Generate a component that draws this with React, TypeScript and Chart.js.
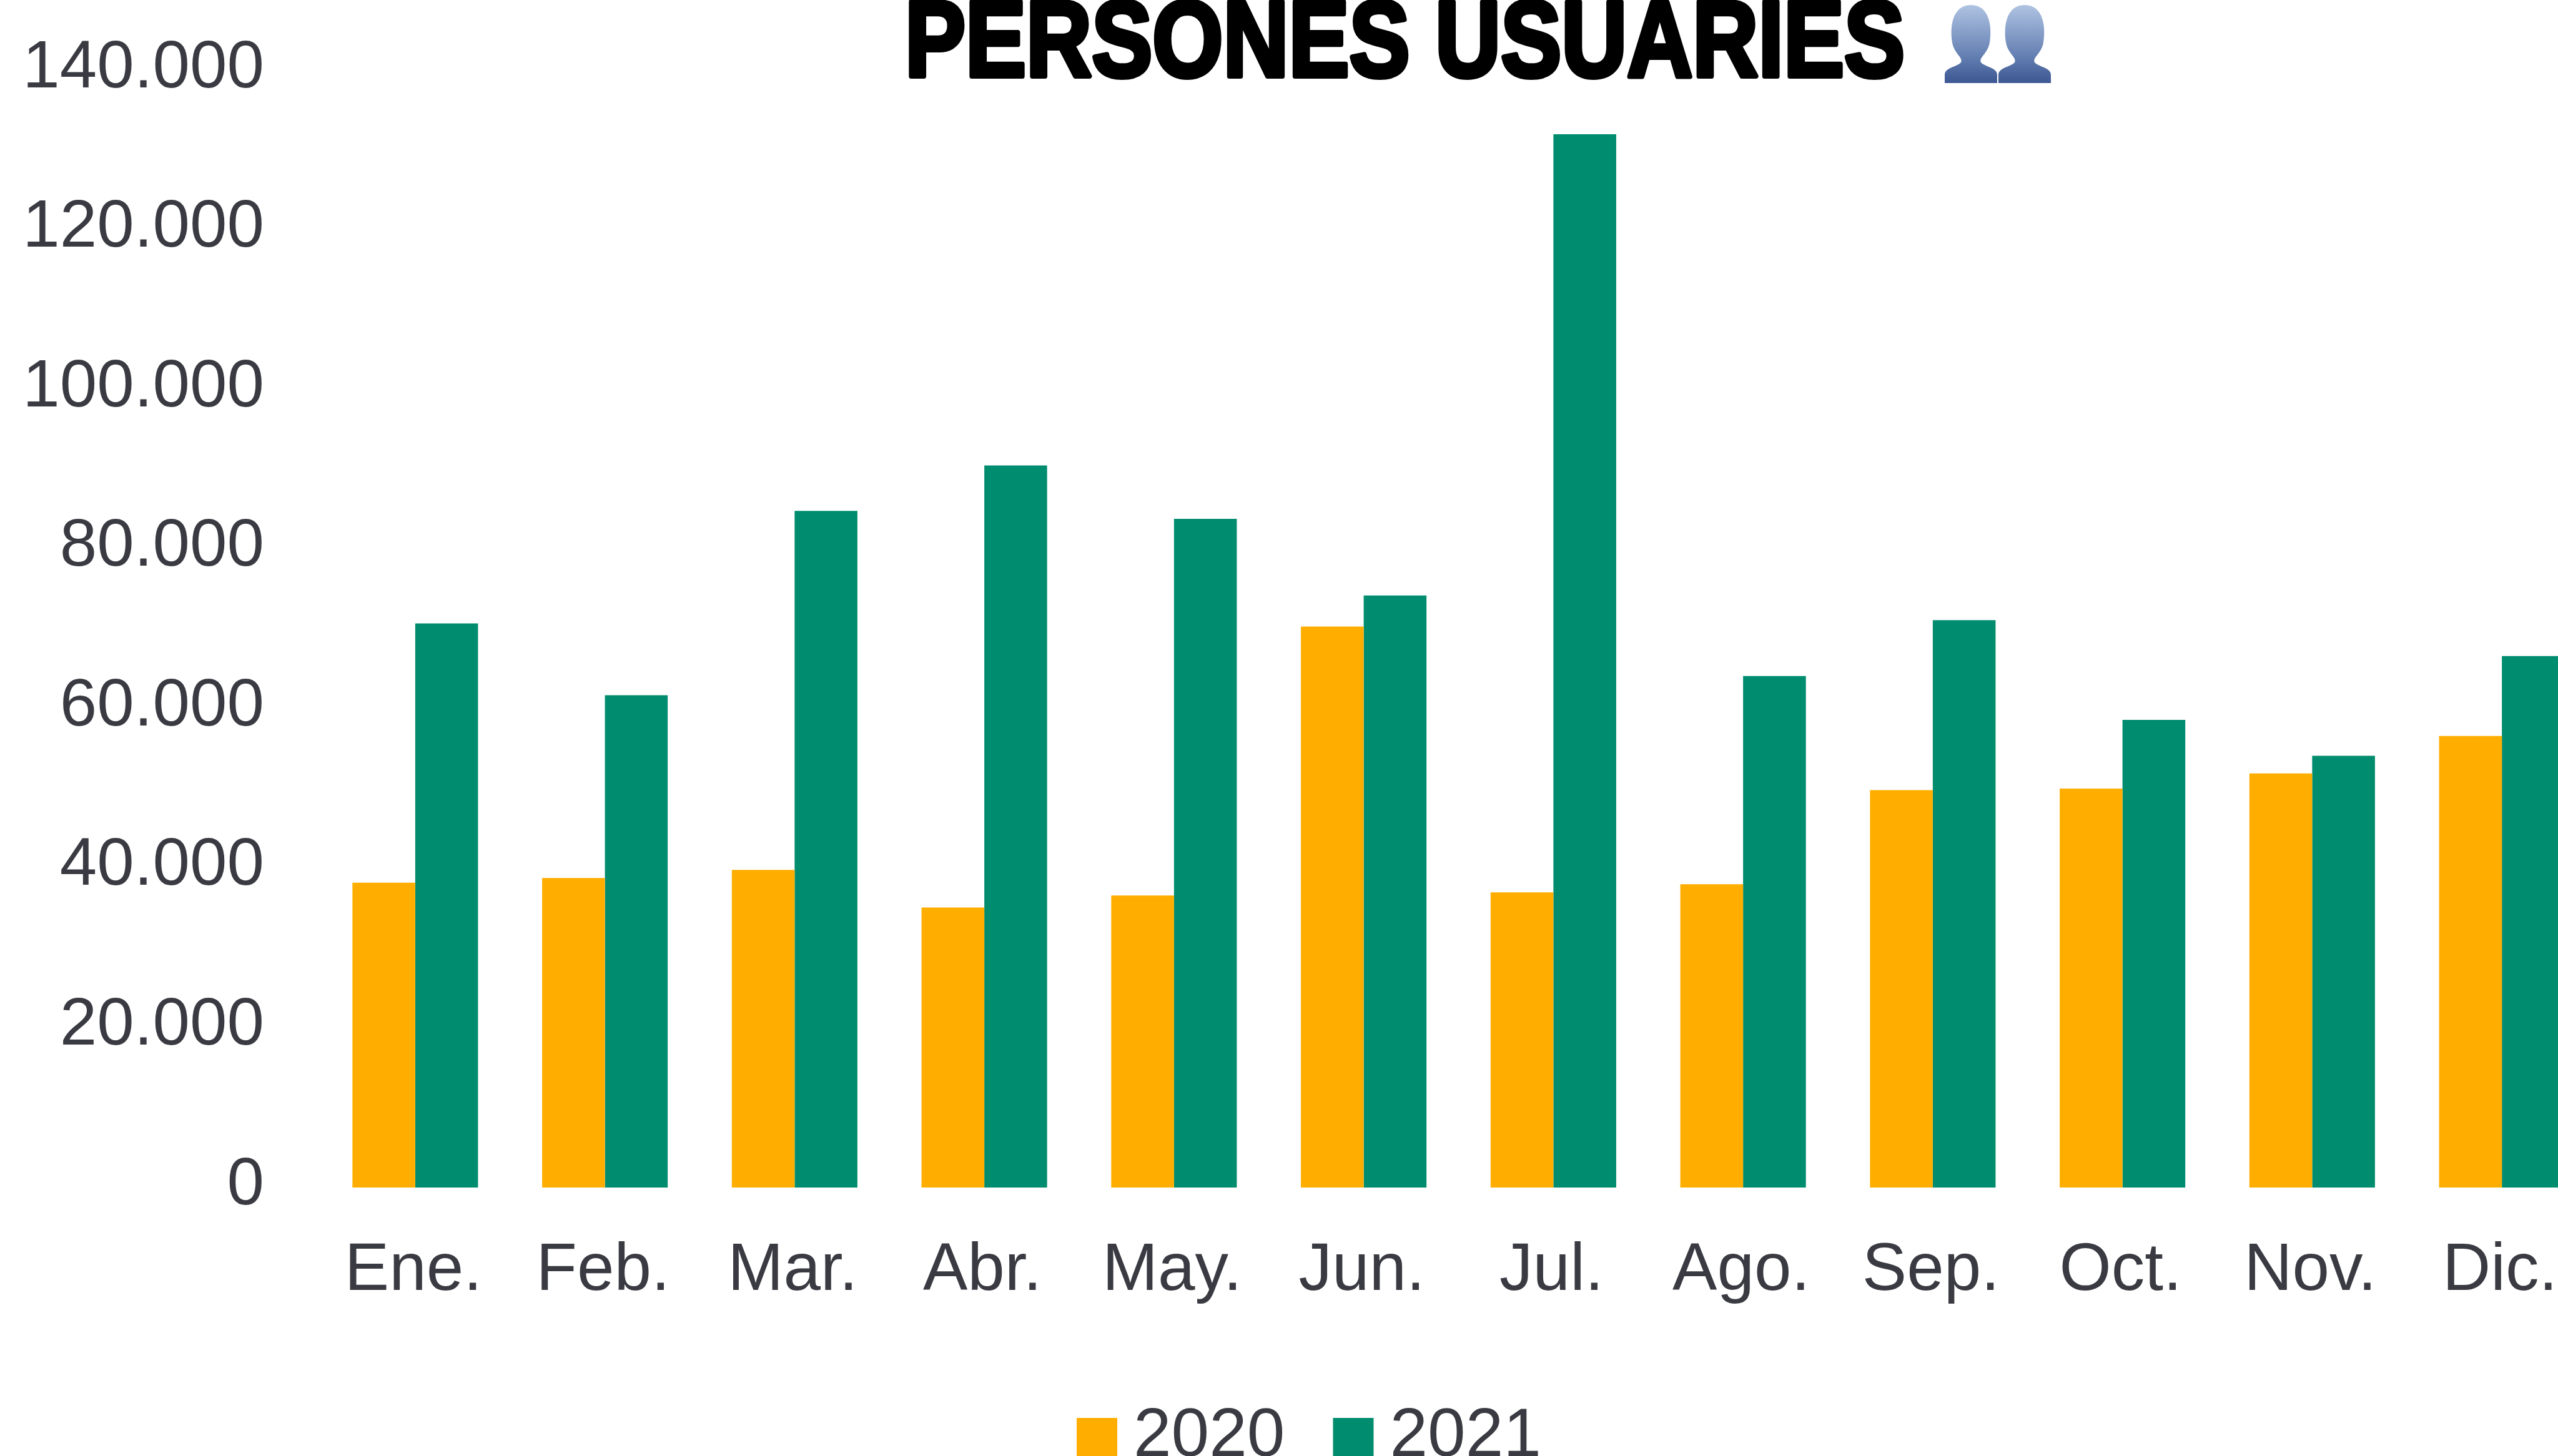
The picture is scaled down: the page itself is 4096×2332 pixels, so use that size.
import React, { useEffect, useRef } from "react";
import { Chart, registerables } from "chart.js";

Chart.register(...registerables);

const TITLE = "PERSONES USUARIES";
const MONTHS = ["Ene.", "Feb.", "Mar.", "Abr.", "May.", "Jun.", "Jul.", "Ago.", "Sep.", "Oct.", "Nov.", "Dic."];
const SERIES_2020 = [38200, 38800, 39800, 35100, 36600, 70300, 37000, 38000, 49800, 50000, 51900, 56600];
const SERIES_2021 = [70700, 61700, 84800, 90500, 83800, 74200, 132000, 64100, 71100, 58600, 54100, 66600];
const TICK_VALUES = [0, 20000, 40000, 60000, 80000, 100000, 120000, 140000];
const ORANGE = "#FFAE00";
const GREEN = "#008C6E";
const TEXT = "#3A3A42";
const FONT = '"Liberation Sans", Arial, sans-serif';

const drawBust = (ctx: CanvasRenderingContext2D, cx: number, top: number, bottom: number) => {
  const g = ctx.createLinearGradient(0, top, 0, bottom);
  g.addColorStop(0, "#AFC3E2");
  g.addColorStop(0.6, "#6A85B6");
  g.addColorStop(1, "#3C5792");
  ctx.fillStyle = g;
  ctx.beginPath();
  ctx.moveTo(cx, top);
  ctx.bezierCurveTo(cx + 30, top, cx + 34, top + 35, cx + 30, top + 60);
  ctx.bezierCurveTo(cx + 27, top + 78, cx + 12, top + 84, cx + 16, top + 92);
  ctx.bezierCurveTo(cx + 24, top + 100, cx + 42, top + 100, cx + 42, top + 112);
  ctx.lineTo(cx + 42, bottom);
  ctx.lineTo(cx - 42, bottom);
  ctx.lineTo(cx - 42, top + 112);
  ctx.bezierCurveTo(cx - 42, top + 100, cx - 24, top + 100, cx - 16, top + 92);
  ctx.bezierCurveTo(cx - 12, top + 84, cx - 27, top + 78, cx - 30, top + 60);
  ctx.bezierCurveTo(cx - 34, top + 35, cx - 30, top, cx, top);
  ctx.closePath();
  ctx.fill();
};

const decorations = {
  id: "decorations",
  afterDraw(chart: any) {
    const ctx: CanvasRenderingContext2D = chart.ctx;
    ctx.save();
    // title: the reference's face is heavier and narrower than Liberation Sans Bold
    ctx.save();
    ctx.translate(1449, 122);
    ctx.scale(0.846, 1);
    ctx.font = 'bold 172px "Liberation Sans", sans-serif';
    ctx.fillStyle = "#000000";
    ctx.strokeStyle = "#000000";
    ctx.lineWidth = 8;
    ctx.lineJoin = "round";
    ctx.textAlign = "left";
    ctx.textBaseline = "alphabetic";
    ctx.fillText(TITLE, 0, 0);
    ctx.strokeText(TITLE, 0, 0);
    ctx.restore();
    drawBust(ctx, 3156, 8, 133);
    drawBust(ctx, 3242, 8, 133);
    // legend
    ctx.font = `109px ${FONT}`;
    ctx.textAlign = "left";
    ctx.textBaseline = "alphabetic";
    let x = 1724;
    chart.data.datasets.forEach((ds: any) => {
      ctx.fillStyle = ds.backgroundColor;
      ctx.fillRect(x, 2271, 65, 70);
      x += 65 + 26;
      ctx.fillStyle = TEXT;
      ctx.fillText(ds.label, x, 2332);
      x += ctx.measureText(ds.label).width + 77;
    });
    ctx.restore();
  },
};

export default function App() {
  const ref = useRef<HTMLCanvasElement>(null);
  useEffect(() => {
    document.body.style.margin = "0";
    document.documentElement.style.overflow = "hidden";
    const chart = new Chart(ref.current as HTMLCanvasElement, {
      type: "bar",
      data: {
        labels: MONTHS,
        datasets: [
          { label: "2020", data: SERIES_2020, backgroundColor: ORANGE, yAxisID: "y", categoryPercentage: 0.662, barPercentage: 1 },
          { label: "2021", data: SERIES_2021, backgroundColor: GREEN, yAxisID: "y", categoryPercentage: 0.662, barPercentage: 1 },
        ],
      },
      options: {
        responsive: false,
        animation: false,
        layout: { autoPadding: false, padding: { top: 10.6, right: 26, left: 0, bottom: 0 } },
        plugins: { legend: { display: false }, title: { display: false }, tooltip: { enabled: false } },
        scales: {
          x: {
            grid: { display: false, drawTicks: false },
            border: { display: false },
            ticks: {
              autoSkip: false,
              maxRotation: 0,
              padding: 70,
              labelOffset: -3,
              color: TEXT,
              font: { family: FONT, size: 107 },
            },
            afterFit: (s: any) => { s.height = 430; s.paddingLeft = 0; s.paddingRight = 0; s.paddingTop = 0; s.paddingBottom = 0; },
          },
          y: {
            display: false,
            min: 0,
            max: 148000,
          },
          yLabels: {
            position: "left",
            min: -220,
            max: 147780,
            grid: { display: false, drawTicks: false },
            border: { display: false },
            ticks: {
              padding: 90,
              color: TEXT,
              font: { family: FONT, size: 107 },
              callback: (v: any) => String(v).replace(/\B(?=(\d{3})+(?!\d))/g, "."),
            },
            afterBuildTicks: (s: any) => { s.ticks = TICK_VALUES.map((value) => ({ value })); },
            afterFit: (s: any) => { s.width = 513; s.paddingLeft = 0; s.paddingRight = 0; s.paddingTop = 0; s.paddingBottom = 0; },
          },
        },
      } as any,
      plugins: [decorations],
    });
    return () => chart.destroy();
  }, []);
  return (
    <div style={{ width: 4096, height: 2332, overflow: "hidden", background: "#fff" }}>
      <canvas ref={ref} width={4184} height={2332} style={{ display: "block" }} />
    </div>
  );
}
